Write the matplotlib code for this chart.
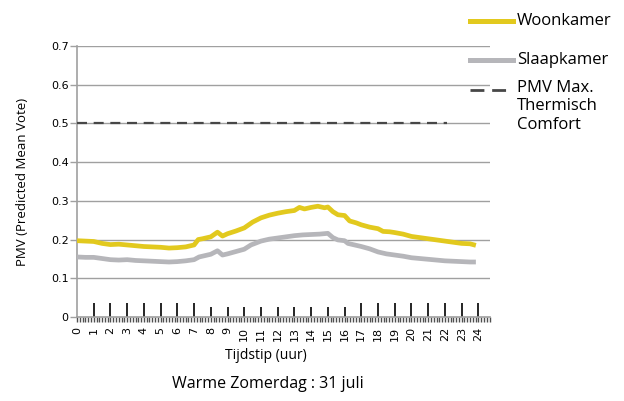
import matplotlib
matplotlib.use('Agg')
import matplotlib.pyplot as plt
from matplotlib.lines import Line2D
import numpy as np

# Data
woon_hours = [0, 0.5, 1, 1.5, 2, 2.5, 3, 3.5, 4, 4.5, 5, 5.5, 6, 6.5, 7, 7.25, 7.5, 8, 8.4, 8.7,
              9, 9.5, 10, 10.5, 11, 11.5, 12, 12.5, 13, 13.3, 13.6, 14, 14.4, 14.8, 15, 15.3, 15.6,
              16, 16.3, 16.7, 17, 17.5, 18, 18.3, 18.7, 19, 19.5, 20, 20.5, 21, 21.5, 22, 22.5,
              23, 23.5, 23.85]
woon_pmv = [0.197, 0.196, 0.195, 0.190, 0.187, 0.188, 0.186, 0.184, 0.182, 0.181, 0.180, 0.178,
            0.179, 0.181, 0.186, 0.200, 0.202, 0.207, 0.219, 0.209, 0.215, 0.222, 0.230, 0.245,
            0.256, 0.263, 0.268, 0.272, 0.275, 0.283, 0.279, 0.283, 0.286, 0.282, 0.284, 0.272,
            0.264, 0.262, 0.248, 0.243, 0.238, 0.232, 0.228, 0.221, 0.220, 0.218, 0.214, 0.208,
            0.205, 0.202, 0.199, 0.196, 0.193, 0.190, 0.189, 0.185]

slaap_hours = [0, 0.5, 1, 1.5, 2, 2.5, 3, 3.5, 4, 4.5, 5, 5.5, 6, 6.5, 7, 7.3, 7.6, 8, 8.4, 8.7,
               9, 9.5, 10, 10.4, 11, 11.5, 12, 12.5, 13, 13.5, 14, 14.5, 15, 15.3, 15.6, 16, 16.2,
               16.5, 17, 17.5, 18, 18.5, 19, 19.5, 20, 20.5, 21, 21.5, 22, 22.5, 23, 23.5, 23.85]
slaap_pmv = [0.155, 0.154, 0.154, 0.151, 0.148, 0.147, 0.148, 0.146, 0.145, 0.144, 0.143, 0.142,
             0.143, 0.145, 0.148, 0.155, 0.158, 0.162, 0.171, 0.160, 0.163, 0.169, 0.175, 0.186,
             0.196, 0.201, 0.204, 0.207, 0.210, 0.212, 0.213, 0.214, 0.216, 0.205, 0.199, 0.197,
             0.190, 0.187, 0.182, 0.176, 0.168, 0.163, 0.160, 0.157, 0.153, 0.151, 0.149, 0.147,
             0.145, 0.144, 0.143, 0.142, 0.142]

pmv_max = 0.5
pmv_max_hours = [0, 22.15]

hour_ticks = list(range(25))
yticks = [0, 0.1, 0.2, 0.3, 0.4, 0.5, 0.6, 0.7]
ytick_labels = ['0', '0.1', '0.2', '0.3', '0.4', '0.5', '0.6', '0.7']

YELLOW = '#E2C91E'
GREY = '#B6B6BA'
DASH = '#474747'
AXIS = '#A0A0A0'

plt.rcParams['font.family'] = ['Open Sans', 'DejaVu Sans']

fig = plt.figure(figsize=(6.24, 4.01), dpi=100)
ax = fig.add_axes([0.1234, 0.2095, 0.662, 0.676])

# horizontal gridlines
for y in yticks[1:]:
    ax.axhline(y, color=AXIS, linewidth=1.0, zorder=1)

ax.plot(slaap_hours, slaap_pmv, color=GREY, linewidth=3.4, solid_capstyle='butt', zorder=3)
ax.plot(woon_hours, woon_pmv, color=YELLOW, linewidth=3.4, solid_capstyle='butt', zorder=4)
ax.plot(pmv_max_hours, [pmv_max, pmv_max], color=DASH, linewidth=1.6,
        dashes=(4.5, 3.0), zorder=3)

# upward hour markers above the x axis
for h in hour_ticks[1:]:
    top = 0.026 if 8 <= h <= 16 else 0.036
    ax.vlines(h, 0, top, color='black', linewidth=1.2, zorder=2)

ax.set_xlim(0, 24.7)
ax.set_ylim(0, 0.7)

# fine comb of 10-minute ticks under the x axis
comb = np.arange(0, 24.7, 1 / 6)
ax.vlines(comb, -5 / 271, 0, transform=ax.get_xaxis_transform(), color='#505050',
          linewidth=1.0, clip_on=False, zorder=2)

for side in ['top', 'right']:
    ax.spines[side].set_visible(False)
for side in ['left', 'bottom']:
    ax.spines[side].set_color(AXIS)
    ax.spines[side].set_linewidth(1.2)

ax.set_yticks(yticks)
ax.set_yticklabels(ytick_labels, fontsize=8, family='DejaVu Sans')
ax.tick_params(axis='y', length=5, color=AXIS, width=1.0, pad=1)

ax.set_xticks(hour_ticks)
ax.set_xticklabels([str(h) for h in hour_ticks], rotation=90, fontsize=8, family='DejaVu Sans')
ax.tick_params(axis='x', which='major', length=0, pad=7)

ax.set_ylabel('PMV (Predicted Mean Vote)', fontsize=9.5, labelpad=16)
ax.set_xlabel('Tijdstip (uur)', fontsize=10)
ax.xaxis.set_label_coords((266 - 77) / 413, (317 - 348) / 271)

fig.text(268 / 624, 1 - 384 / 401, 'Warme Zomerdag : 31 juli', fontsize=11.5,
         ha='center', va='center')

# legend drawn at right
x0, x1 = 470 / 624, 513 / 624
fig.add_artist(Line2D([x0, x1], [1 - 21 / 401] * 2, color=YELLOW, linewidth=3.6,
                      transform=fig.transFigure))
fig.text(517 / 624, 1 - 21 / 401, 'Woonkamer', fontsize=12, ha='left', va='center')
fig.add_artist(Line2D([x0, x1], [1 - 60 / 401] * 2, color=GREY, linewidth=3.6,
                      transform=fig.transFigure))
fig.text(517 / 624, 1 - 60 / 401, 'Slaapkamer', fontsize=12, ha='left', va='center')
fig.add_artist(Line2D([x0, x1], [1 - 90 / 401] * 2, color=DASH, linewidth=2.0,
                      dashes=(5, 2.8), transform=fig.transFigure))
fig.text(517 / 624, 1 - 80 / 401, 'PMV Max.\nThermisch\nComfort', fontsize=12,
         ha='left', va='top', linespacing=1.2)

fig.savefig('out.png', dpi=100)
